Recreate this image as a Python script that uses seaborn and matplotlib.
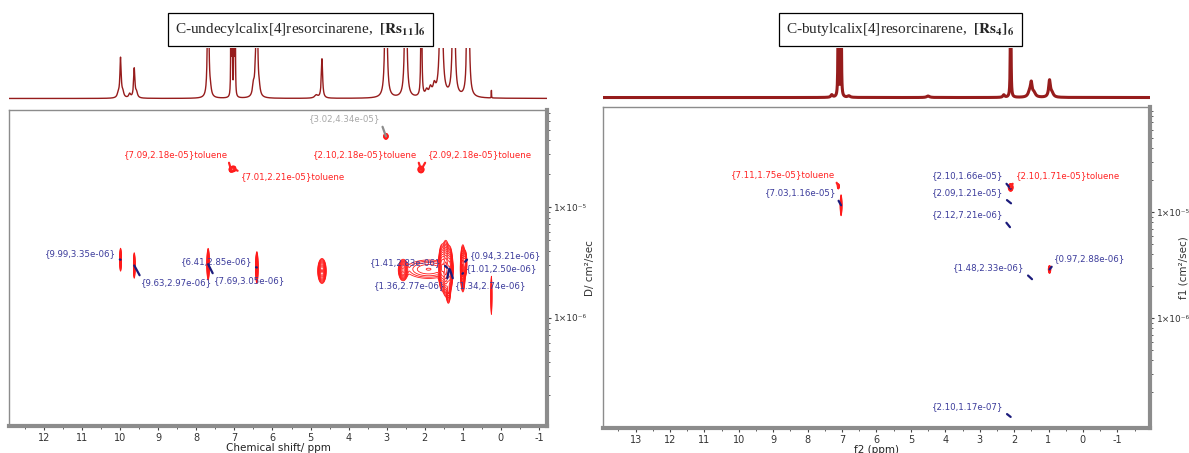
import numpy as np
import matplotlib
matplotlib.use("Agg")
import matplotlib.pyplot as plt
import matplotlib.ticker as mticker
import seaborn as sns

sns.set_theme(style="white")
plt.rcParams["font.family"] = ["DejaVu Sans"]

# ---------------- 1H spectra (peak lists: shift / height / half-width) ----------------
rs11_shift = [10.05, 9.99, 9.93, 9.75, 9.63, 9.57, 7.69, 7.63, 7.09, 7.06, 7.01, 6.98,
              6.50, 6.45, 6.41, 6.35, 4.85, 4.70, 3.02, 2.50, 2.09, 1.95, 1.85, 1.75,
              1.57, 1.24, 0.90, 0.86, 0.25]
rs11_height = [0.08, 0.78, 0.10, 0.08, 0.58, 0.10, 4.0, 0.12, 6.0, 6.0, 6.0, 6.0,
               0.22, 0.28, 4.0, 0.14, 0.06, 0.78, 5.0, 5.0, 6.0, 0.12, 0.16, 0.20,
               4.0, 6.0, 0.50, 5.0, 0.15]
rs11_hw = [0.03, 0.02, 0.03, 0.03, 0.02, 0.03, 0.015, 0.03, 0.004, 0.004, 0.004, 0.004,
           0.03, 0.02, 0.015, 0.03, 0.05, 0.02, 0.02, 0.02, 0.008, 0.04, 0.04, 0.04,
           0.03, 0.02, 0.012, 0.02, 0.004]

rs4_shift = [7.30, 7.11, 7.03, 6.80, 4.50, 2.30, 2.10, 1.55, 1.50, 1.42, 0.97, 0.90]
rs4_height = [0.05, 6.0, 6.0, 0.03, 0.03, 0.05, 6.0, 0.10, 0.26, 0.08, 0.33, 0.08]
rs4_hw = [0.03, 0.006, 0.006, 0.04, 0.05, 0.03, 0.006, 0.05, 0.03, 0.05, 0.03, 0.05]

# ---------------- DOSY cross peaks: shift / D (cm2/s) / widths / amplitude ----------------
rs11_xp_shift = [3.02, 7.09, 7.05, 7.01, 2.10, 9.99, 9.63, 7.69, 6.41, 4.70, 2.57,
                 1.55, 1.45, 1.35, 1.00, 0.94, 1.90, 1.38, 0.25]
rs11_xp_D = [4.34e-5, 2.18e-5, 2.20e-5, 2.21e-5, 2.18e-5, 3.35e-6, 2.97e-6, 3.05e-6,
             2.85e-6, 2.65e-6, 2.70e-6, 2.85e-6, 2.80e-6, 2.75e-6, 2.80e-6, 3.10e-6,
             2.75e-6, 1.75e-6, 1.60e-6]
rs11_xp_wppm = [0.03, 0.025, 0.02, 0.025, 0.04, 0.010, 0.010, 0.014, 0.014, 0.045, 0.05,
                0.035, 0.04, 0.035, 0.025, 0.02, 0.35, 0.025, 0.005]
rs11_xp_wlog = [0.013, 0.012, 0.012, 0.012, 0.015, 0.045, 0.05, 0.06, 0.06, 0.045, 0.04,
                0.08, 0.09, 0.08, 0.08, 0.05, 0.05, 0.05, 0.075]
rs11_xp_amp = [3, 3, 3, 3, 3, 5, 5, 6, 6, 8, 6, 10, 18, 10, 12, 5, 1.4, 4, 5]

rs4_xp_shift = [7.11, 7.03, 2.10, 0.97]
rs4_xp_D = [1.75e-5, 1.16e-5, 1.71e-5, 2.88e-6]
rs4_xp_wppm = [0.015, 0.012, 0.035, 0.018]
rs4_xp_wlog = [0.012, 0.045, 0.018, 0.018]
rs4_xp_amp = [3, 4, 3, 3]

# ---------------- picked peaks (labels) ----------------
rs11_pick_shift = [3.02, 7.09, 7.01, 2.10, 2.09, 9.99, 9.63, 6.41, 7.69, 1.41, 0.94, 1.01, 1.36, 1.34]
rs11_pick_D = [4.34e-5, 2.18e-5, 2.21e-5, 2.18e-5, 2.18e-5, 3.35e-6, 2.97e-6, 2.85e-6,
               3.05e-6, 2.83e-6, 3.21e-6, 2.50e-6, 2.77e-6, 2.74e-6]
rs11_pick_tag = ["", "toluene", "toluene", "toluene", "toluene", "", "", "", "", "", "", "", "", ""]
rs11_pick_kind = ["grey", "red", "red", "red", "red", "blue", "blue", "blue", "blue",
                  "blue", "blue", "blue", "blue", "blue"]

rs4_pick_shift = [7.11, 7.03, 2.10, 2.10, 2.09, 2.12, 1.48, 0.97, 2.10]
rs4_pick_D = [1.75e-5, 1.16e-5, 1.66e-5, 1.71e-5, 1.21e-5, 7.21e-6, 2.33e-6, 2.88e-6, 1.17e-7]
rs4_pick_tag = ["toluene", "", "", "toluene", "", "", "", "", ""]
rs4_pick_kind = ["red", "blue", "blue", "red", "blue", "blue", "blue", "blue", "blue"]

# label placement (axes fraction) and leader anchor on the text box
rs11_label_pos = [(0.6245, 0.9715), (0.3104, 0.8576), (0.5279, 0.7880), (0.6617, 0.8576),
                  (0.8755, 0.8576), (0.1338, 0.5443), (0.3123, 0.4525), (0.3866, 0.5190),
                  (0.4480, 0.4589), (0.7379, 0.5158), (0.9238, 0.5380), (0.9164, 0.4968),
                  (0.7454, 0.4430), (0.8959, 0.4430)]
rs11_label_rel = [(1, 0.2), (1, 0), (0, 1), (1, 0.2), (0, 0.2), (1, 0), (0, 1), (1, 0),
                  (0, 1), (1, 0.5), (0, 0.5), (0, 0.5), (1, 0.5), (0, 0.5)]
rs4_label_pos = [(0.3291, 0.7882), (0.3620, 0.7321), (0.6673, 0.7850), (0.8501, 0.7850),
                 (0.6673, 0.7321), (0.6673, 0.6636), (0.7057, 0.4984), (0.8903, 0.5265),
                 (0.6673, 0.0654)]
rs4_label_rel = [(1, 0), (1, 0), (1, 0), (0, 0.3), (1, 0), (1, 0), (1, 0), (0, 0), (1, 0)]

TEXT_COL = {"blue": "#3b3b9b", "red": "#ff2222", "grey": "#a8a8a8"}
LEAD_COL = {"blue": "#1c1c7c", "red": "#ff2222", "grey": "#8c8c8c"}
SPEC_COL = "#961c1c"
FRAME_COL = "#8c8c8c"
SUP = str.maketrans("-0123456789", "⁻⁰¹²³⁴⁵⁶⁷⁸⁹")


def spectrum(grid, shifts, heights, hws):
    y = np.zeros_like(grid)
    for s, h, w in zip(shifts, heights, hws):
        y += h * w ** 2 / ((grid - s) ** 2 + w ** 2)
    return y


def dosy_surface(ppm_lim, logd_lim, shifts, Ds, wppm, wlog, amps):
    p = np.arange(ppm_lim[0], ppm_lim[1], 0.003)
    l = np.arange(logd_lim[0], logd_lim[1], 0.004)
    P, L = np.meshgrid(p, l)
    Z = np.zeros_like(P)
    for s, d, wp, wl, a in zip(shifts, Ds, wppm, wlog, amps):
        Z += a * np.exp(-0.5 * ((P - s) / wp) ** 2 - 0.5 * ((L - np.log10(d)) / wl) ** 2)
    return P, 10 ** L, Z


def decade_label(v, pos):
    e = int(round(np.log10(v)))
    return "1×10" + str(e).translate(SUP)


fig = plt.figure(figsize=(11.89, 4.53), dpi=100)
W, H = 1189.0, 453.0


def add_axes(x0, x1, y0, y1):
    return fig.add_axes([x0 / W, 1 - y1 / H, (x1 - x0) / W, (y1 - y0) / H])


panels = [
    dict(spec=(rs11_shift, rs11_height, rs11_hw),
         xp=(rs11_xp_shift, rs11_xp_D, rs11_xp_wppm, rs11_xp_wlog, rs11_xp_amp),
         pick=(rs11_pick_shift, rs11_pick_D, rs11_pick_tag, rs11_pick_kind,
               rs11_label_pos, rs11_label_rel),
         xlim=(12.92, -1.21), ylim=(1.06e-7, 7.5e-5),
         box=(9, 547, 110, 426), sbox=(9, 547, 48, 101), lw=1.0,
         xlabel="Chemical shift/ ppm", ylabel="D/ cm²/sec", ylabel_x=590,
         title=r"C-undecylcalix[4]resorcinarene,  $\mathbf{[Rs_{11}]_{6}}$", title_x=300.5),
    dict(spec=(rs4_shift, rs4_height, rs4_hw),
         xp=(rs4_xp_shift, rs4_xp_D, rs4_xp_wppm, rs4_xp_wlog, rs4_xp_amp),
         pick=(rs4_pick_shift, rs4_pick_D, rs4_pick_tag, rs4_pick_kind,
               rs4_label_pos, rs4_label_rel),
         xlim=(13.95, -1.95), ylim=(9.2e-8, 9.8e-5),
         box=(603, 1150, 107, 428), sbox=(603, 1150, 48, 100), lw=2.2,
         xlabel="f2 (ppm)", ylabel="f1 (cm²/sec)", ylabel_x=1183,
         title=r"C-butylcalix[4]resorcinarene,  $\mathbf{[Rs_{4}]_{6}}$", title_x=900.5),
]

for pn in panels:
    # --- 1D projection on top ---
    sax = add_axes(*pn["sbox"])
    grid = np.linspace(pn["xlim"][1], pn["xlim"][0], 7000)
    sns.lineplot(x=grid, y=spectrum(grid, *pn["spec"]), ax=sax, color=SPEC_COL,
                 lw=pn["lw"], estimator=None, sort=False)
    sax.set_xlim(*pn["xlim"])
    sax.set_ylim(-0.05, 1.0)
    sax.axis("off")

    # --- 2D DOSY map ---
    ax = add_axes(*pn["box"])
    ax.set_facecolor("white")
    P, D, Z = dosy_surface((pn["xlim"][1], pn["xlim"][0]),
                           (np.log10(pn["ylim"][0]), np.log10(pn["ylim"][1])), *pn["xp"])
    ax.set_yscale("log")
    ax.contour(P, D, Z, levels=np.geomspace(0.35, 30, 14), colors="#ff1a1a", linewidths=0.6)
    ax.set_xlim(*pn["xlim"])
    ax.set_ylim(*pn["ylim"])

    for s, d, tag, kind, pos, rp in zip(*pn["pick"]):
        ax.annotate("{%.2f,%.2e}%s" % (s, d, tag), xy=(s, d), xycoords="data",
                    xytext=pos, textcoords="axes fraction", ha="center", va="center",
                    fontsize=6.2, color=TEXT_COL[kind],
                    arrowprops=dict(arrowstyle="-", color=LEAD_COL[kind], lw=1.6,
                                    shrinkA=0, shrinkB=0, relpos=rp))

    # frame: thin top/left, heavy right/bottom
    for side in ("top", "left"):
        ax.spines[side].set_color(FRAME_COL)
        ax.spines[side].set_linewidth(1.0)
    for side in ("right", "bottom"):
        ax.spines[side].set_color(FRAME_COL)
        ax.spines[side].set_linewidth(3.0)

    ax.xaxis.set_major_locator(mticker.MultipleLocator(1))
    ax.xaxis.set_minor_locator(mticker.MultipleLocator(0.5))
    ax.xaxis.set_major_formatter(mticker.FuncFormatter(lambda v, p: "%d" % round(v)))
    ax.tick_params(axis="x", which="both", bottom=True, top=False, direction="out",
                   color="#444444", labelsize=7, pad=2, labelcolor="#333333")
    ax.tick_params(axis="x", which="major", length=3, width=0.8)
    ax.tick_params(axis="x", which="minor", length=2, width=0.6)
    ax.set_xlabel(pn["xlabel"], fontsize=7.5, labelpad=0, color="#222222")

    ax.yaxis.tick_right()
    ax.yaxis.set_major_locator(mticker.FixedLocator([1e-6, 1e-5]))
    ax.yaxis.set_minor_locator(mticker.LogLocator(base=10, subs=np.arange(2, 10)))
    ax.yaxis.set_major_formatter(mticker.FuncFormatter(decade_label))
    ax.yaxis.set_minor_formatter(mticker.NullFormatter())
    ax.tick_params(axis="y", which="both", left=False, right=True, direction="out",
                   color="#444444", labelsize=6.5, pad=2, labelcolor="#333333")
    ax.tick_params(axis="y", which="major", length=3, width=0.8)
    ax.tick_params(axis="y", which="minor", length=2, width=0.6)
    ax.grid(False)

    fig.text(pn["ylabel_x"] / W, 1 - 268 / H, pn["ylabel"], rotation=90, fontsize=7.5,
             ha="center", va="center", color="#333333")

    # compound title box
    fig.text(pn["title_x"] / W, 1 - 29.5 / H, pn["title"], fontsize=11,
             family="Liberation Serif", math_fontfamily="stix", ha="center", va="center",
             bbox=dict(boxstyle="square,pad=0.5", fc="white", ec="black", lw=0.9))

fig.savefig("out.png", dpi=100, facecolor="white")
